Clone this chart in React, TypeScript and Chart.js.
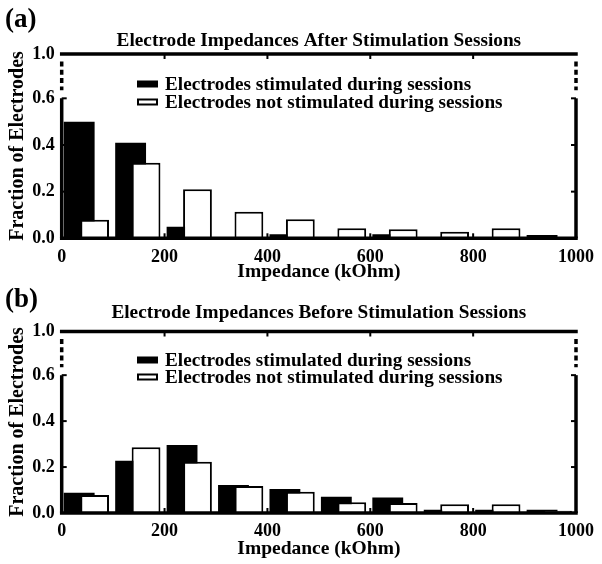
import React, { useEffect, useRef } from 'react';
import { Chart, registerables } from 'chart.js';

Chart.register(...registerables);

// ---------- data ----------
const BIN_STARTS = [0, 100, 200, 300, 400, 500, 600, 700, 800, 900];
const X_TICKS = [0, 200, 400, 600, 800, 1000];
const X_TICK_LABELS = ['0', '200', '400', '600', '800', '1000'];
const Y_TICK_VALUES = [0, 0.2, 0.4, 0.6];
const Y_TICK_LABELS = ['0.0', '0.2', '0.4', '0.6', '1.0'];
const SERIES_LABELS = [
  'Electrodes stimulated during sessions',
  'Electrodes not stimulated during sessions',
];

const AFTER_STIM = [0.5, 0.41, 0.05, 0, 0.017, 0, 0.017, 0, 0, 0.014];
const AFTER_NOSTIM = [0.079, 0.324, 0.21, 0.114, 0.082, 0.043, 0.039, 0.028, 0.043, 0];
const BEFORE_STIM = [0.088, 0.227, 0.296, 0.122, 0.104, 0.071, 0.068, 0.014, 0.014, 0.014];
const BEFORE_NOSTIM = [0.078, 0.286, 0.223, 0.117, 0.093, 0.047, 0.043, 0.038, 0.038, 0.01];

// ---------- layout / style ----------
const W = 602;
const H = 282;
const PLOT_LEFT = 61.7;
const PLOT_RIGHT = 576.7;
const Y_BREAK_TOP = 0.79; // value position of the top (labelled "1.0") after the axis break
const STIM_OFFSET = 34;
const NOSTIM_OFFSET = 64;
const FONT = '"Liberation Serif", "Times New Roman", serif';

type Panel = {
  tag: string;
  title: string;
  stim: number[];
  nostim: number[];
  top: number;
  bottom: number;
  tagY: number;
  titleY: number;
  xTitleY: number;
  yTitleY: number;
  legendY: number[];
};

const PANELS: Panel[] = [
  {
    tag: '(a)',
    title: 'Electrode Impedances After Stimulation Sessions',
    stim: AFTER_STIM,
    nostim: AFTER_NOSTIM,
    top: 54,
    bottom: 238.3,
    tagY: 20,
    titleY: 41,
    xTitleY: 272,
    yTitleY: 146,
    legendY: [84, 102],
  },
  {
    tag: '(b)',
    title: 'Electrode Impedances Before Stimulation Sessions',
    stim: BEFORE_STIM,
    nostim: BEFORE_NOSTIM,
    top: 49.5,
    bottom: 231,
    tagY: 18,
    titleY: 31,
    xTitleY: 267,
    yTitleY: 140,
    legendY: [78, 95],
  },
];

function decorPlugin(p: Panel) {
  return {
    id: 'decor',
    afterDatasetsDraw(chart: any) {
      const { ctx, chartArea, scales } = chart;
      const { left, right, top, bottom } = chartArea;
      const y06 = scales.y.getPixelForValue(0.6);
      const line = (x1: number, y1: number, x2: number, y2: number) => {
        ctx.beginPath();
        ctx.moveTo(x1, y1);
        ctx.lineTo(x2, y2);
        ctx.stroke();
      };
      ctx.save();
      ctx.strokeStyle = '#000';
      ctx.lineCap = 'butt';
      ctx.lineWidth = 3.5;
      line(left - 1.75, bottom, right + 1.75, bottom);
      line(left - 1.75, top, right + 1.75, top);
      line(left, bottom, left, y06);
      line(right, bottom, right, y06);
      // axis break: dotted segment between 0.6 and the top
      ctx.setLineDash([5, 3.3]);
      line(left, top + 7.5, left, y06 - 8);
      line(right, top + 7.5, right, y06 - 8);
      ctx.setLineDash([]);
      ctx.lineWidth = 2;
      X_TICKS.slice(1, -1).forEach((v) => {
        const px = scales.x.getPixelForValue(v);
        line(px, bottom, px, bottom - 5);
        line(px, top, px, top + 5);
      });
      Y_TICK_VALUES.slice(1).forEach((v) => {
        const py = scales.y.getPixelForValue(v);
        line(left, py, left + 5, py);
        line(right, py, right - 5, py);
      });
      ctx.restore();
    },
    afterDraw(chart: any) {
      const { ctx, chartArea } = chart;
      const cx = (chartArea.left + chartArea.right) / 2;
      ctx.save();
      ctx.fillStyle = '#000';
      ctx.textBaseline = 'middle';
      // panel tag
      ctx.font = `bold 27px ${FONT}`;
      ctx.textAlign = 'left';
      ctx.fillText(p.tag, 5, p.tagY);
      // title
      ctx.font = `bold 19.3px ${FONT}`;
      ctx.textAlign = 'center';
      ctx.fillText(p.title, cx, p.titleY);
      // x title
      ctx.font = `bold 19.5px ${FONT}`;
      ctx.fillText('Impedance (kOhm)', cx, p.xTitleY);
      // y title
      ctx.save();
      ctx.font = `bold 20px ${FONT}`;
      ctx.translate(18, p.yTitleY);
      ctx.rotate(-Math.PI / 2);
      ctx.fillText('Fraction of Electrodes', 0, 0);
      ctx.restore();
      // legend
      const boxX = 137;
      const boxW = 21;
      const boxH = 7;
      ctx.textAlign = 'left';
      ctx.font = `bold 19.2px ${FONT}`;
      SERIES_LABELS.forEach((label, i) => {
        const y = p.legendY[i];
        if (i === 0) {
          ctx.fillStyle = '#000';
          ctx.fillRect(boxX, y - boxH / 2, boxW, boxH);
        } else {
          ctx.fillStyle = '#fff';
          ctx.fillRect(boxX, y - boxH / 2, boxW, boxH);
          ctx.strokeStyle = '#000';
          ctx.lineWidth = 2;
          ctx.strokeRect(boxX + 1, y - boxH / 2 + 1, boxW - 2, boxH - 2);
        }
        ctx.fillStyle = '#000';
        ctx.fillText(label, 165, y + 1);
      });
      ctx.restore();
    },
  };
}

function makeConfig(p: Panel): any {
  const tickFont = { family: FONT, size: 18, weight: 'bold' as const };
  const xTicks = (s: any) => {
    s.ticks = X_TICKS.map((v) => ({ value: v }));
  };
  return {
    type: 'bar',
    data: {
      datasets: [
        {
          label: SERIES_LABELS[0],
          data: BIN_STARTS.map((b, i) => ({ x: b + STIM_OFFSET, y: p.stim[i] })),
          xAxisID: 'x',
          backgroundColor: '#000',
          borderColor: '#000',
          borderWidth: 0,
          barPercentage: 0.6,
          categoryPercentage: 1,
          grouped: false,
          order: 2,
        },
        {
          label: SERIES_LABELS[1],
          data: BIN_STARTS.map((b, i) => ({ x: b + NOSTIM_OFFSET, y: p.nostim[i] })),
          xAxisID: 'x2',
          backgroundColor: '#fff',
          borderColor: '#000',
          borderWidth: 2,
          barPercentage: 0.56,
          categoryPercentage: 1,
          grouped: false,
          order: 1,
        },
      ],
    },
    options: {
      responsive: false,
      animation: false,
      layout: { padding: { top: p.top, right: W - PLOT_RIGHT, left: 0, bottom: 0 } },
      plugins: {
        legend: { display: false },
        tooltip: { enabled: false },
        title: { display: false },
      },
      scales: {
        x: {
          type: 'linear',
          min: 0,
          max: 1000,
          offset: false,
          afterBuildTicks: xTicks,
          ticks: {
            font: tickFont,
            color: '#000',
            padding: 8,
            maxRotation: 0,
            autoSkip: false,
            callback: (_v: any, i: number) => X_TICK_LABELS[i],
          },
          grid: { display: false, drawTicks: false },
          border: { display: false },
          afterFit: (s: any) => {
            s.height = H - p.bottom;
          },
        },
        x2: {
          type: 'linear',
          min: 0,
          max: 1000,
          offset: false,
          display: false,
          afterBuildTicks: xTicks,
        },
        y: {
          type: 'linear',
          min: 0,
          max: Y_BREAK_TOP,
          afterBuildTicks: (s: any) => {
            s.ticks = [...Y_TICK_VALUES, Y_BREAK_TOP].map((v) => ({ value: v }));
          },
          ticks: {
            font: tickFont,
            color: '#000',
            padding: 7,
            callback: (_v: any, i: number) => Y_TICK_LABELS[i],
          },
          grid: { display: false, drawTicks: false },
          border: { display: false },
          afterFit: (s: any) => {
            s.width = PLOT_LEFT;
          },
        },
      },
    },
    plugins: [decorPlugin(p)],
  };
}

function PanelChart({ panel }: { panel: Panel }) {
  const ref = useRef<HTMLCanvasElement | null>(null);
  useEffect(() => {
    if (!ref.current) return;
    const chart = new Chart(ref.current, makeConfig(panel));
    return () => chart.destroy();
  }, [panel]);
  return <canvas ref={ref} width={W} height={H} style={{ display: 'block', width: W, height: H }} />;
}

export default function App() {
  return (
    <div style={{ position: 'absolute', left: 0, top: 0, width: W, height: 2 * H, background: '#fff' }}>
      {PANELS.map((p) => (
        <PanelChart key={p.tag} panel={p} />
      ))}
    </div>
  );
}
